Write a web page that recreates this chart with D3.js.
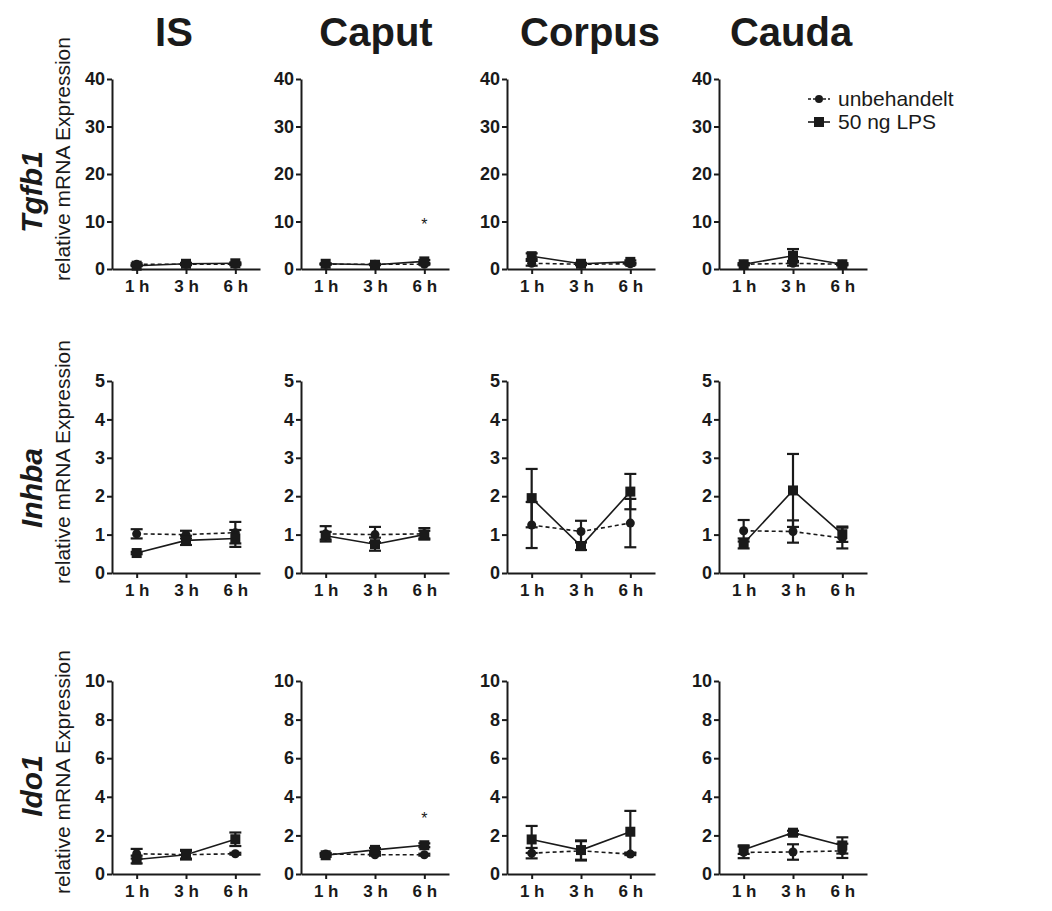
<!DOCTYPE html>
<html>
<head>
<meta charset="utf-8">
<script src="https://cdn.jsdelivr.net/npm/d3@7"></script>
<style>
  body { margin: 0; background: #fff; }
  svg { font-family: "Liberation Sans", Arial, sans-serif; }
  .axis path, .axis line { stroke: #1a1a1a; stroke-width: 2; }
  .axis text { font-size: 17px; font-weight: 700; fill: #1a1a1a; }
  .yaxis text { font-size: 18px; }
</style>
</head>
<body>
<div class="center"></div>
<script>
// categories
const timepoints = ["1 h", "3 h", "6 h"];
const regions = ["IS", "Caput", "Corpus", "Cauda"];
const genes = ["Tgfb1", "Inhba", "Ido1"];
const yMaxes = [40, 5, 10];
const yTickValues = [[0, 10, 20, 30, 40], [0, 1, 2, 3, 4, 5], [0, 2, 4, 6, 8, 10]];
const seriesNames = ["unbehandelt", "50 ng LPS"];

// Tgfb1 (rows: IS, Caput, Corpus, Cauda; cols: 1 h, 3 h, 6 h)
const tgfb1Ctrl    = [[1.0, 1.0, 1.0], [1.0, 1.0, 1.0], [1.2, 1.0, 1.1], [1.0, 1.2, 1.0]];
const tgfb1CtrlErr = [[0.2, 0.2, 0.2], [0.1, 0.1, 0.1], [0.5, 0.2, 0.2], [0.2, 0.5, 0.2]];
const tgfb1Lps     = [[0.7, 1.1, 1.2], [1.1, 0.9, 1.6], [2.7, 1.1, 1.5], [1.0, 2.8, 1.0]];
const tgfb1LpsErr  = [[0.1, 0.2, 0.2], [0.1, 0.1, 0.3], [0.6, 0.2, 0.3], [0.2, 1.4, 0.2]];

// Inhba
const inhbaCtrl    = [[1.02, 1.0, 1.05], [1.02, 1.0, 1.02], [1.25, 1.08, 1.3], [1.1, 1.08, 0.91]];
const inhbaCtrlErr = [[0.12, 0.1, 0.28], [0.2, 0.2, 0.15], [0.6, 0.28, 0.63], [0.28, 0.29, 0.27]];
const inhbaLps     = [[0.52, 0.85, 0.9], [0.97, 0.75, 1.0], [1.95, 0.7, 2.12], [0.77, 2.15, 1.01]];
const inhbaLpsErr  = [[0.03, 0.12, 0.22], [0.1, 0.17, 0.1], [0.76, 0.1, 0.46], [0.13, 0.95, 0.2]];

// Ido1
const ido1Ctrl    = [[1.05, 1.0, 1.05], [1.04, 1.0, 1.0], [1.08, 1.2, 1.03], [1.12, 1.14, 1.2]];
const ido1CtrlErr = [[0.25, 0.2, 0.05], [0.05, 0.05, 0.05], [0.27, 0.5, 0.05], [0.3, 0.4, 0.37]];
const ido1Lps     = [[0.75, 1.0, 1.8], [0.97, 1.25, 1.49], [1.79, 1.24, 2.19], [1.26, 2.14, 1.48]];
const ido1LpsErr  = [[0.2, 0.25, 0.35], [0.08, 0.1, 0.1], [0.7, 0.5, 1.08], [0.22, 0.1, 0.42]];

// significance markers: gene index, region index, timepoint, y value
const stars = [
  {gene: 0, region: 1, time: "6 h", y: 10},
  {gene: 2, region: 1, time: "6 h", y: 3}
];

const ctrlData = [tgfb1Ctrl, inhbaCtrl, ido1Ctrl];
const ctrlErr = [tgfb1CtrlErr, inhbaCtrlErr, ido1CtrlErr];
const lpsData = [tgfb1Lps, inhbaLps, ido1Lps];
const lpsErr = [tgfb1LpsErr, inhbaLpsErr, ido1LpsErr];

// layout
const colX = [112, 301, 507, 719];
const titleX = [174, 376, 590, 791];
const rowTop = [79, 381, 681];
const rowZero = [269, 573, 874];
const geneLabelY = [192, 488, 786];
const relLabelY = [159, 462, 772];
const plotW = 148;

const svg = d3.select(".center").append("svg")
  .attr("width", 1052)
  .attr("height", 911);

const ink = "#1a1a1a";

const xScale = d3.scalePoint()
  .domain(timepoints)
  .range([0, plotW])
  .padding(0.5);

// column titles
regions.forEach(function(r, i) {
  svg.append("text")
    .attr("x", titleX[i])
    .attr("y", 46)
    .attr("text-anchor", "middle")
    .style("font-size", "40px")
    .style("font-weight", "700")
    .style("fill", ink)
    .text(r);
});

// row labels
genes.forEach(function(g, j) {
  svg.append("text")
    .attr("transform", "translate(42," + geneLabelY[j] + ") rotate(-90)")
    .attr("text-anchor", "middle")
    .style("font-size", "30px")
    .style("font-weight", "700")
    .style("font-style", "italic")
    .style("fill", ink)
    .text(g);
  svg.append("text")
    .attr("transform", "translate(70," + relLabelY[j] + ") rotate(-90)")
    .attr("text-anchor", "middle")
    .style("font-size", "21px")
    .style("fill", ink)
    .text("relative mRNA Expression");
});

function drawSeries(g, yScale, vals, errs, isCtrl) {
  const pts = timepoints.map(function(t, k) { return {t: t, v: vals[k], e: errs[k]}; });

  // error bars
  const eb = g.append("g").attr("stroke", ink).attr("stroke-width", 2.2);
  pts.forEach(function(d) {
    const x = xScale(d.t);
    eb.append("line")
      .attr("x1", x).attr("x2", x)
      .attr("y1", yScale(d.v - d.e)).attr("y2", yScale(d.v + d.e));
    [d.v - d.e, d.v + d.e].forEach(function(c) {
      eb.append("line")
        .attr("x1", x - 6).attr("x2", x + 6)
        .attr("y1", yScale(c)).attr("y2", yScale(c));
    });
  });

  // line
  const line = d3.line()
    .x(function(d) { return xScale(d.t); })
    .y(function(d) { return yScale(d.v); });
  g.append("path")
    .datum(pts)
    .attr("d", line)
    .attr("fill", "none")
    .attr("stroke", ink)
    .attr("stroke-width", 1.6)
    .attr("stroke-dasharray", isCtrl ? "4,3" : null);

  // markers
  if (isCtrl) {
    g.selectAll(".dot").data(pts).enter().append("circle")
      .attr("cx", function(d) { return xScale(d.t); })
      .attr("cy", function(d) { return yScale(d.v); })
      .attr("r", 4.5)
      .attr("fill", ink);
  } else {
    g.selectAll(".sq").data(pts).enter().append("rect")
      .attr("x", function(d) { return xScale(d.t) - 5; })
      .attr("y", function(d) { return yScale(d.v) - 5; })
      .attr("width", 10)
      .attr("height", 10)
      .attr("fill", ink);
  }
}

genes.forEach(function(gene, j) {
  const yScale = d3.scaleLinear()
    .domain([0, yMaxes[j]])
    .range([rowZero[j] - rowTop[j], 0]);

  regions.forEach(function(region, i) {
    const g = svg.append("g")
      .attr("transform", "translate(" + colX[i] + "," + rowTop[j] + ")");

    g.append("g")
      .attr("class", "axis yaxis")
      .call(d3.axisLeft(yScale)
        .tickValues(yTickValues[j])
        .tickFormat(d3.format("d"))
        .tickSize(5).tickPadding(2).tickSizeOuter(0));

    g.append("g")
      .attr("class", "axis")
      .attr("transform", "translate(0," + (rowZero[j] - rowTop[j]) + ")")
      .call(d3.axisBottom(xScale).tickSize(5).tickPadding(6).tickSizeOuter(0));

    drawSeries(g, yScale, ctrlData[j][i], ctrlErr[j][i], true);
    drawSeries(g, yScale, lpsData[j][i], lpsErr[j][i], false);

    stars.filter(function(s) { return s.gene === j && s.region === i; }).forEach(function(s) {
      g.append("text")
        .attr("x", xScale(s.time))
        .attr("y", yScale(s.y) + 8)
        .attr("text-anchor", "middle")
        .style("font-size", "16px")
        .style("fill", ink)
        .text("*");
    });
  });
});

// legend
const legend = svg.append("g").attr("transform", "translate(808,99)");
seriesNames.forEach(function(name, k) {
  const row = legend.append("g").attr("transform", "translate(0," + (k * 23) + ")");
  row.append("line")
    .attr("x1", 0).attr("x2", 22)
    .attr("stroke", ink)
    .attr("stroke-width", 1.6)
    .attr("stroke-dasharray", k === 0 ? "3,2" : null);
  if (k === 0) {
    row.append("circle").attr("cx", 11).attr("cy", 0).attr("r", 4).attr("fill", ink);
  } else {
    row.append("rect").attr("x", 6).attr("y", -5).attr("width", 10).attr("height", 10).attr("fill", ink);
  }
  row.append("text")
    .attr("x", 30)
    .attr("y", 7)
    .style("font-size", "21px")
    .style("fill", ink)
    .text(name);
});
</script>
</body>
</html>
